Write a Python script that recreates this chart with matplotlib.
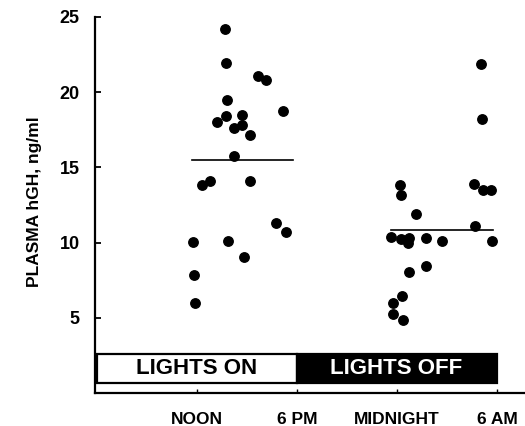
import matplotlib
matplotlib.use("Agg")
import matplotlib.pyplot as plt
from matplotlib.patches import Rectangle

# Plasma hGH samples, x = hours after noon, y = ng/ml
noon_hours = [1.70, 1.74, 3.64, 4.16, 1.82, 5.18, 1.20, 1.76, 2.68, 2.20, 2.70, 3.18,
              2.20, 0.30, 0.80, 3.20, 4.74, 5.32, -0.22, 1.88, 2.84, -0.18, -0.12]
noon_vals = [24.22, 21.96, 21.06, 20.79, 19.47, 18.71, 18.04, 18.42, 18.47, 17.64, 17.84, 17.16,
             15.72, 13.84, 14.06, 14.12, 11.29, 10.67, 10.03, 10.07, 9.05, 7.84, 6.00]
night_hours = [12.20, 12.24, 13.16, 11.66, 12.22, 12.72, 12.68, 13.76, 14.70, 12.74, 13.76,
               12.32, 11.76, 11.76, 12.34, 16.60, 17.16, 17.66, 16.70, 17.71, 17.02, 17.10]
night_vals = [13.84, 13.19, 11.89, 10.34, 10.23, 10.27, 9.98, 10.30, 10.10, 8.06, 8.41,
              6.42, 5.98, 5.25, 4.82, 13.90, 13.50, 13.50, 11.11, 10.12, 21.86, 18.20]

# group means and the span of each mean line
mean_vals = [15.5, 10.85]
mean_spans = [(-0.3, 5.76), (11.66, 17.78)]

# light periods
light_labels = ["LIGHTS ON", "LIGHTS OFF"]
light_spans = [(-6.0, 6.0), (6.0, 18.0)]
light_colours = ["white", "black"]

xtick_pos = [0, 6, 12, 18]
xtick_labels = ["NOON", "6 PM", "MIDNIGHT", "6 AM"]
ytick_pos = [5, 10, 15, 20, 25]

plt.rcParams["font.family"] = ["Liberation Sans", "DejaVu Sans"]
plt.rcParams["font.weight"] = "bold"

fig = plt.figure(figsize=(5.25, 4.26), dpi=100)
ax = fig.add_axes([95 / 525, 33 / 426, 430 / 525, 378 / 426])

ax.plot(noon_hours, noon_vals, "o", color="black", markersize=6.8)
ax.plot(night_hours, night_vals, "o", color="black", markersize=6.8)
for m, (x0, x1) in zip(mean_vals, mean_spans):
    ax.plot([x0, x1], [m, m], "-", color="black", linewidth=1.2)

# lights bar
for lab, (x0, x1), col in zip(light_labels, light_spans, light_colours):
    ax.add_patch(Rectangle((x0, 0.68), x1 - x0, 1.93, facecolor=col,
                           edgecolor="black", linewidth=1.6))
    ax.text((x0 + x1) / 2 - 0.05, 1.62, lab, ha="center", va="center", fontsize=16,
            fontweight="bold", color="white" if col == "black" else "black")

ax.set_xlim(-6.12, 19.68)
ax.set_ylim(0, 25.12)
ax.spines["top"].set_visible(False)
ax.spines["right"].set_visible(False)
ax.spines["left"].set_bounds(0, 25)
ax.spines["left"].set_linewidth(1.6)
ax.spines["bottom"].set_linewidth(1.6)

ax.set_xticks(xtick_pos)
ax.set_xticklabels(xtick_labels, fontsize=12.5, fontweight="bold")
ax.set_yticks(ytick_pos)
ax.set_yticklabels([str(v) for v in ytick_pos], fontsize=13, fontweight="bold")
ax.tick_params(axis="y", direction="in", length=4.5, width=1.3, pad=11)
ax.tick_params(axis="x", direction="in", length=3, width=1.0, pad=14)

fig.text(35 / 525, 1 - 202 / 426, "PLASMA hGH, ng/ml", rotation=90, ha="center",
         va="center", fontsize=12.5, fontweight="bold")

fig.savefig("out.png", dpi=100)
